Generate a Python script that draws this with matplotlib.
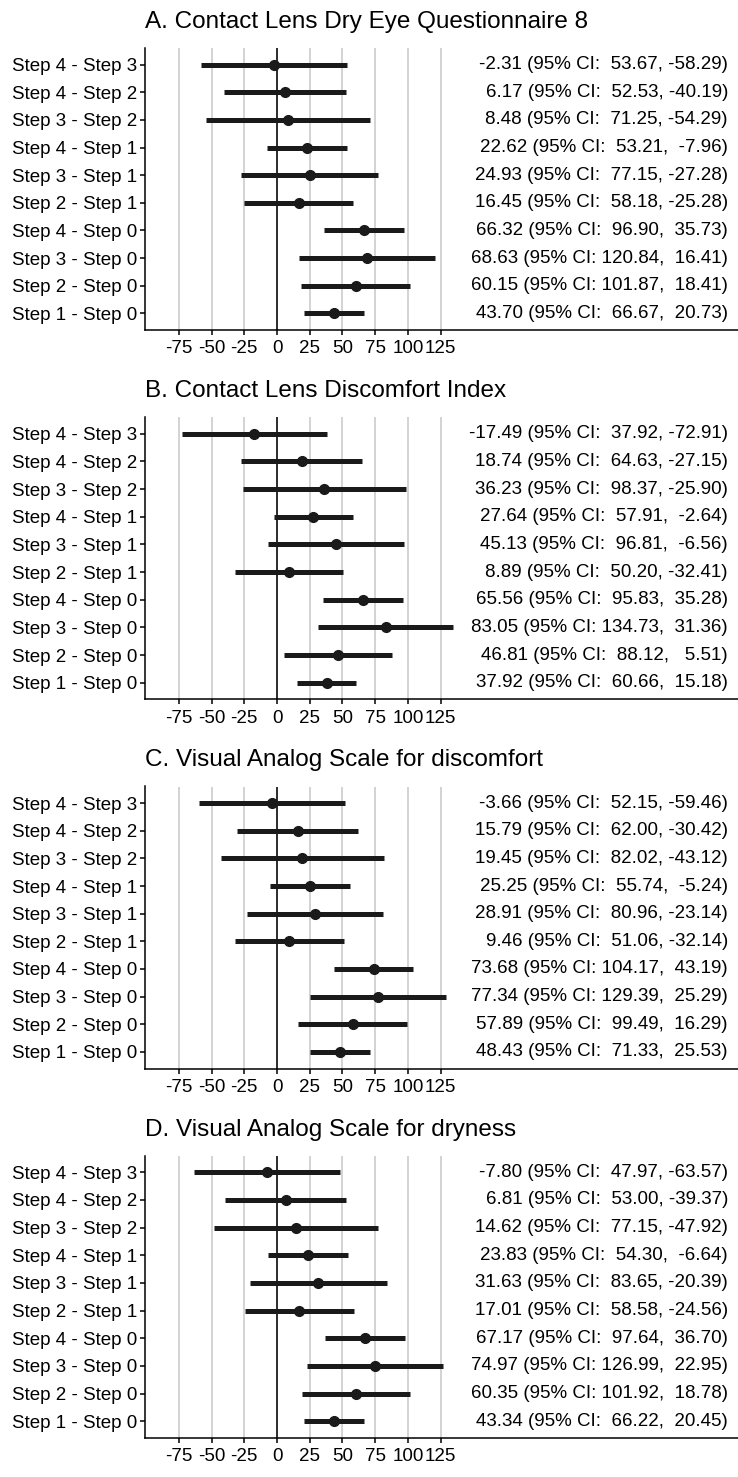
import numpy as np
import matplotlib
matplotlib.use("Agg")
import matplotlib.pyplot as plt

plt.rcParams["font.family"] = ["Liberation Sans", "DejaVu Sans"]

comparisons = ["Step 4 - Step 3", "Step 4 - Step 2", "Step 3 - Step 2",
               "Step 4 - Step 1", "Step 3 - Step 1", "Step 2 - Step 1",
               "Step 4 - Step 0", "Step 3 - Step 0", "Step 2 - Step 0",
               "Step 1 - Step 0"]

titles = ["A. Contact Lens Dry Eye Questionnaire 8",
          "B. Contact Lens Discomfort Index",
          "C. Visual Analog Scale for discomfort",
          "D. Visual Analog Scale for dryness"]

# estimate, upper CI, lower CI (top row first)
est_a = [-2.31, 6.17, 8.48, 22.62, 24.93, 16.45, 66.32, 68.63, 60.15, 43.70]
upper_a = [53.67, 52.53, 71.25, 53.21, 77.15, 58.18, 96.90, 120.84, 101.87, 66.67]
lower_a = [-58.29, -40.19, -54.29, -7.96, -27.28, -25.28, 35.73, 16.41, 18.41, 20.73]

est_b = [-17.49, 18.74, 36.23, 27.64, 45.13, 8.89, 65.56, 83.05, 46.81, 37.92]
upper_b = [37.92, 64.63, 98.37, 57.91, 96.81, 50.20, 95.83, 134.73, 88.12, 60.66]
lower_b = [-72.91, -27.15, -25.90, -2.64, -6.56, -32.41, 35.28, 31.36, 5.51, 15.18]

est_c = [-3.66, 15.79, 19.45, 25.25, 28.91, 9.46, 73.68, 77.34, 57.89, 48.43]
upper_c = [52.15, 62.00, 82.02, 55.74, 80.96, 51.06, 104.17, 129.39, 99.49, 71.33]
lower_c = [-59.46, -30.42, -43.12, -5.24, -23.14, -32.14, 43.19, 25.29, 16.29, 25.53]

est_d = [-7.80, 6.81, 14.62, 23.83, 31.63, 17.01, 67.17, 74.97, 60.35, 43.34]
upper_d = [47.97, 53.00, 77.15, 54.30, 83.65, 58.58, 97.64, 126.99, 101.92, 66.22]
lower_d = [-63.57, -39.37, -47.92, -6.64, -20.39, -24.56, 36.70, 22.95, 18.78, 20.45]

panels = [(est_a, upper_a, lower_a), (est_b, upper_b, lower_b),
          (est_c, upper_c, lower_c), (est_d, upper_d, lower_d)]

xticks = [-75, -50, -25, 0, 25, 50, 75, 100, 125]

W, H = 738, 1477
fig = plt.figure(figsize=(W / 100, H / 100), dpi=100)
panel_h = H / 4
ypos = np.arange(len(comparisons))[::-1] + 1

for i, (est, up, lo) in enumerate(panels):
    top = i * panel_h
    ax = fig.add_axes([145 / W, 1 - (top + 330) / H, 593 / W, 282 / H])
    for g in xticks:
        ax.axvline(g, color="#c8c8c8", lw=1.1, zorder=0)
    ax.axvline(0, color="black", lw=1.1, zorder=1)
    ax.hlines(ypos, lo, up, color="#1a1a1a", lw=3.6, zorder=2)
    ax.plot(est, ypos, "o", color="#1a1a1a", ms=7, zorder=3)
    for y, e, u, l in zip(ypos, est, up, lo):
        ax.text(0.983, y, "%.2f (95%% CI: %6.2f, %6.2f)" % (e, u, l),
                transform=ax.get_yaxis_transform(), ha="right", va="center",
                fontsize=13.5)
    ax.set_xlim(-100.8, 352)
    ax.set_ylim(0.4, 10.6)
    ax.set_xticks(xticks)
    ax.set_xticklabels([str(t) for t in xticks])
    ax.set_yticks(ypos)
    ax.set_yticklabels(comparisons)
    ax.tick_params(labelsize=13.5, length=3.5, width=1.1)
    ax.tick_params(axis="x", pad=4)
    ax.tick_params(axis="y", pad=2)
    for s in ["top", "right"]:
        ax.spines[s].set_visible(False)
    for s in ["left", "bottom"]:
        ax.spines[s].set_linewidth(1.1)
    fig.text(145 / W, 1 - (top + 22) / H, titles[i], ha="left", va="center",
             fontsize=17.5)

fig.savefig("out.png", dpi=100)
